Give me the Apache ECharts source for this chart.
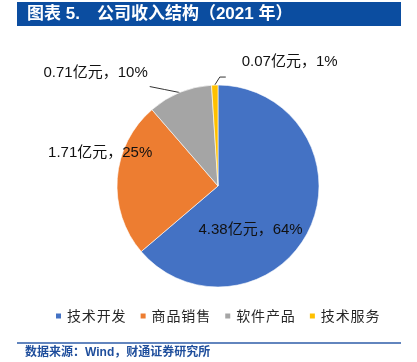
<!DOCTYPE html>
<html>
<head>
<meta charset="utf-8">
<script src="https://cdn.jsdelivr.net/npm/echarts@6/dist/echarts.min.js"></script>
<style>
  html, body { margin: 0; padding: 0; background: #fff; }
  #chart { width: 417px; height: 362px; }
</style>
</head>
<body>
<div id="chart"></div>
<script>
// ---- data ----
const categories = ['技术开发', '商品销售', '软件产品', '技术服务'];
const revenue = [4.38, 1.71, 0.71, 0.07]; // 亿元
const colors = ['#4472C4', '#ED7D31', '#A5A5A5', '#FFC000'];
const titleText = '图表 5.\u2003公司收入结构（2021 年）';
const sourceText = '数据来源：Wind，财通证券研究所';

const CJK = '"Liberation Sans", "Noto Sans CJK SC", sans-serif';

const chart = echarts.init(document.getElementById('chart'), null, { renderer: 'canvas' });

function spaced(s) { return s.split('').join('\u200A'); }

const option = {
  animation: false,
  color: colors,
  graphic: [
    { type: 'rect', shape: { x: 17, y: 2, width: 384, height: 24 }, style: { fill: '#0B4DA0' } },
    { type: 'text', x: 27, y: 14, style: { text: titleText, fill: '#fff', font: 'bold 17px "Liberation Sans", "Noto Sans CJK SC", sans-serif', verticalAlign: 'middle' } },
    { type: 'line', shape: { x1: 17, y1: 343, x2: 401, y2: 343 }, style: { stroke: '#2E5DA8', lineWidth: 1.5 } },
    { type: 'text', x: 25, y: 353, style: { text: sourceText, fill: '#1F4E9C', font: 'bold 12px "Liberation Sans", "Noto Sans CJK SC", sans-serif', verticalAlign: 'middle' } }
  ],
  legend: {
    data: categories,
    left: 49,
    top: 304,
    icon: 'rect',
    itemWidth: 7,
    itemHeight: 7,
    itemGap: 13,
    formatter: spaced,
    textStyle: { fontSize: 14, color: '#262626', fontFamily: '"Noto Sans CJK SC", sans-serif' }
  },
  series: [{
    type: 'pie',
    center: [218, 186],
    radius: 101,
    startAngle: 90,
    clockwise: true,
    avoidLabelOverlap: false,
    itemStyle: { borderColor: '#fff', borderWidth: 0.6 },
    label: {
      show: true,
      position: 'outside',
      color: '#111',
      fontSize: 15,
      fontFamily: CJK,
      formatter: function (p) {
        return p.value.toFixed(2) + '亿元，' + Math.round(p.percent) + '%';
      }
    },
    labelLine: { show: true, length: 6, length2: 20, lineStyle: { color: '#333', width: 1 } },
    data: categories.map(function (name, i) {
      const item = { name: name, value: revenue[i] };
      if (i === 0) item.label = { position: 'inside' };
      if (i === 1) item.labelLine = { show: true, lineStyle: { opacity: 0 } };
      return item;
    }),
    labelLayout: function (p) {
      const pts = p.labelLinePoints;
      if (p.dataIndex === 0) {
        return { dx: -16, dy: 21 };
      }
      if (!pts) return {};
      const p0 = pts[0];
      if (p.dataIndex === 1) {
        return { x: p0[0] + 35, y: p0[1] - 26, align: 'right', verticalAlign: 'middle' };
      }
      if (p.dataIndex === 2) {
        return {
          x: p0[0] - 32, y: p0[1] - 20, align: 'right', verticalAlign: 'middle',
          labelLinePoints: [p0, [p0[0] - 15, p0[1] - 3], [p0[0] - 30, p0[1] - 6]]
        };
      }
      if (p.dataIndex === 3) {
        return {
          x: p0[0] + 27, y: p0[1] - 23, align: 'left', verticalAlign: 'middle',
          labelLinePoints: [p0, [p0[0] + 5, p0[1] - 8], [p0[0] + 11, p0[1] - 8]]
        };
      }
      return {};
    }
  }]
};

chart.setOption(option);
</script>
</body>
</html>
